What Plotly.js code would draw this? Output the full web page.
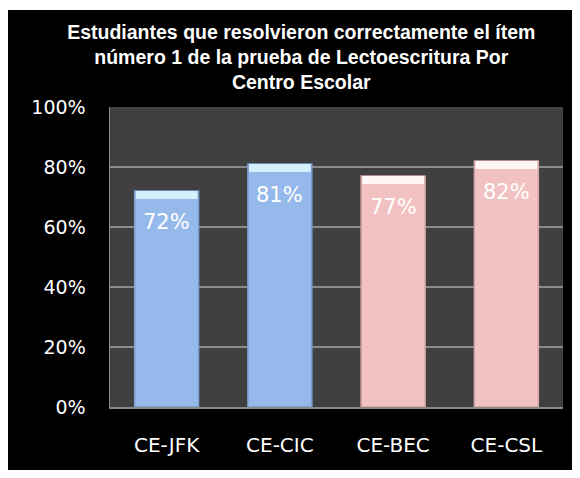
<!DOCTYPE html>
<html>
<head>
<meta charset="utf-8">
<script src="https://cdn.plot.ly/plotly-3.0.1.min.js"></script>
<style>
  html, body { margin: 0; padding: 0; background: #ffffff; width: 580px; height: 478px; overflow: hidden; }
  #chart { position: absolute; left: 8px; top: 10px; width: 564px; height: 460px; }
</style>
</head>
<body>
<div id="chart"></div>
<script>
const categories = ['CE-JFK', 'CE-CIC', 'CE-BEC', 'CE-CSL'];
const values = [0.72, 0.81, 0.77, 0.82];
const valueLabels = ['72%', '81%', '77%', '82%'];
const barColors = ['#95B9EA', '#95B9EA', '#F2C2C2', '#F2C2C2'];
const edgeColors = ['#7A9BCB', '#7A9BCB', '#D4A4A4', '#D4A4A4'];
const highlightColors = ['#D6EFFC', '#D6EFFC', '#FFF6F6', '#FFF6F6'];
const yTickVals = [0, 0.2, 0.4, 0.6, 0.8, 1.0];
const yTickText = ['0%', '20%', '40%', '60%', '80%', '100%'];
const titleText = 'Estudiantes que resolvieron correctamente el ítem<br>número 1 de la prueba de Lectoescritura Por<br>Centro Escolar';

const BAR_W = 0.565;
const HL = 0.027;

const bars = {
  type: 'bar',
  x: categories,
  y: values,
  width: BAR_W,
  marker: { color: barColors, line: { color: edgeColors, width: 1.5 } },
  hoverinfo: 'skip',
  showlegend: false
};

const highlight = {
  type: 'bar',
  x: categories,
  y: values.map(() => HL),
  base: values.map(v => v - HL),
  width: BAR_W - 0.02,
  marker: { color: highlightColors, line: { width: 0 } },
  hoverinfo: 'skip',
  showlegend: false
};

const annotations = categories.map((c, i) => ({
  x: c, y: values[i], xref: 'x', yref: 'y',
  text: valueLabels[i], showarrow: false,
  yanchor: 'middle', yshift: -31,
  font: { family: 'DejaVu Sans, sans-serif', size: 21, color: '#ffffff' }
}));

const layout = {
  width: 564, height: 460,
  paper_bgcolor: '#000000',
  plot_bgcolor: '#404040',
  barmode: 'overlay',
  margin: { l: 102, r: 9, t: 97, b: 63 },
  title: {
    text: titleText,
    xref: 'container', yref: 'container',
    x: 0.52, xanchor: 'center',
    y: 0.938, yanchor: 'top',
    font: { family: 'Liberation Sans Narrow, Liberation Sans, sans-serif', size: 19.5, color: '#ffffff', weight: 'bold' }
  },
  xaxis: {
    type: 'category',
    showgrid: false,
    showline: true, linecolor: '#8a8a8a', linewidth: 2,
    ticks: 'outside', ticklen: 19, tickcolor: 'rgba(0,0,0,0)',
    tickfont: { family: 'DejaVu Sans, sans-serif', size: 20, color: '#ffffff' }
  },
  yaxis: {
    range: [0, 1],
    tickvals: yTickVals, ticktext: yTickText,
    showgrid: true, gridcolor: '#8a8a8a', gridwidth: 1.5,
    zeroline: false,
    showline: true, linecolor: '#8a8a8a', linewidth: 1.5,
    ticks: 'outside', ticklen: 19, tickcolor: 'rgba(0,0,0,0)',
    tickfont: { family: 'DejaVu Sans, sans-serif', size: 19, color: '#ffffff' }
  },
  annotations: annotations
};

Plotly.newPlot('chart', [bars, highlight], layout, { staticPlot: true, displayModeBar: false });
</script>
</body>
</html>
